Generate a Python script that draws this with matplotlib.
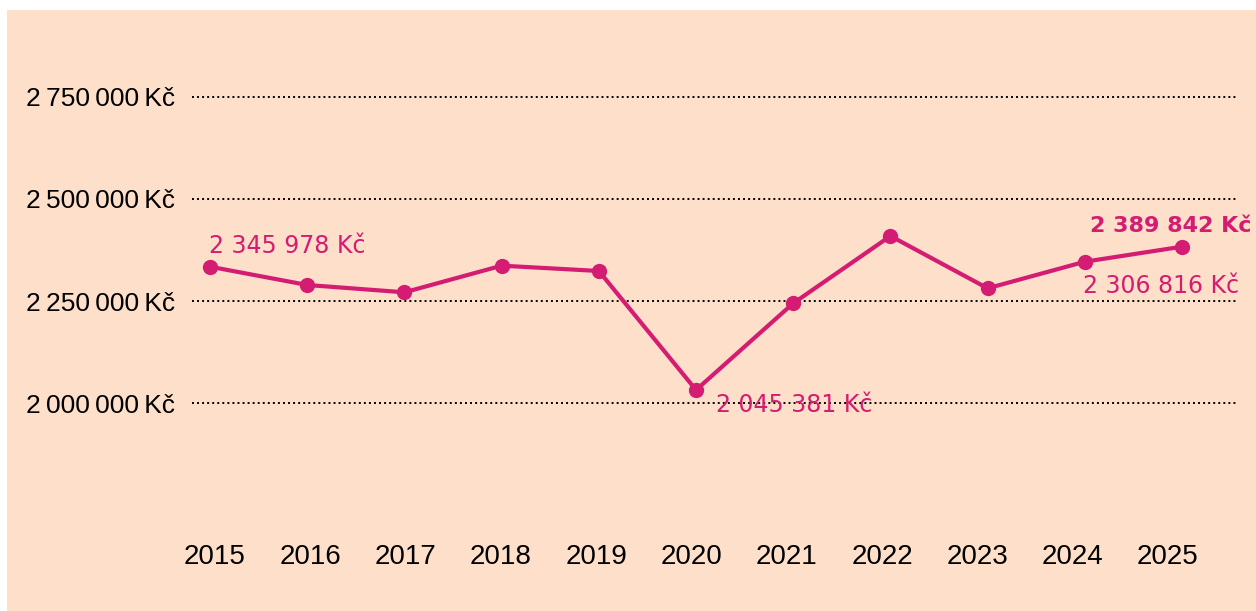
import matplotlib
matplotlib.use("Agg")
import matplotlib.pyplot as plt

years = ["2015", "2016", "2017", "2018", "2019", "2020", "2021", "2022", "2023", "2024", "2025"]
values = [2334300, 2289600, 2271700, 2336800, 2323800, 2033000, 2244900, 2409300, 2281500, 2346500, 2383200]
y_ticks = [2000000, 2250000, 2500000, 2750000]
y_tick_labels = ["2\u2009000\u2009000\u2009Kč", "2\u2009250\u2009000\u2009Kč", "2\u2009500\u2009000\u2009Kč", "2\u2009750\u2009000\u2009Kč"]
label_texts = ["2 345 978 Kč", "2 045 381 Kč", "2 306 816 Kč", "2 389 842 Kč"]

PINK = "#D41C72"
PEACH = "#FDDFCA"

fig = plt.figure(figsize=(12.56, 6.11), dpi=100, facecolor="white")
W, H = 1256, 611
ax = fig.add_axes([7 / W, 0, (W - 7) / W, (H - 10) / H])
ax.set_facecolor(PEACH)
for s in ax.spines.values():
    s.set_visible(False)

x = list(range(len(years)))
ax.set_xlim(-2.0885, 10.761)
ax.set_ylim(1492900, 2961600)

# dotted gridlines
ytr = ax.get_yaxis_transform()
for v in y_ticks:
    ax.plot([0.148, 0.985], [v, v], transform=ytr, color="black", lw=1.4,
            linestyle=(0, (1, 1.6)), zorder=1)

ax.plot(x, values, color=PINK, lw=3, marker="o", markersize=10, zorder=3)

# y ticks
ax.set_yticks(y_ticks, y_tick_labels)
ax.tick_params(axis="y", length=0, pad=-121, labelsize=19)
for t in ax.get_yticklabels():
    t.set_fontfamily(["Liberation Sans", "DejaVu Sans"])
    t.set_color("black")

# year labels (category axis row, slightly narrower spacing than the plotted points)
ax.set_xticks([])
for i, yr in enumerate(years):
    px = 215 + 95.3 * i
    ax.text((px - 7) / (W - 7), (611 - 557) / (H - 10), yr, transform=ax.transAxes,
            ha="center", va="center", fontsize=20, color="black",
            family=["Liberation Sans", "DejaVu Sans"])

# value labels
ax.annotate(label_texts[0], (x[0], values[0]), xytext=(-1, 13.7), textcoords="offset pixels",
            ha="left", va="baseline", color=PINK, fontsize=17, family="DejaVu Sans")
ax.annotate(label_texts[1], (x[5], values[5]), xytext=(20, -21.7), textcoords="offset pixels",
            ha="left", va="baseline", color=PINK, fontsize=17, family="DejaVu Sans")
ax.annotate(label_texts[2], (x[9], values[9]), xytext=(-2, -31.6), textcoords="offset pixels",
            ha="left", va="baseline", color=PINK, fontsize=17, family="DejaVu Sans")
ax.annotate(label_texts[3], (x[10], values[10]), xytext=(69, 15), textcoords="offset pixels",
            ha="right", va="baseline", color=PINK, fontsize=16, fontweight="bold", family="DejaVu Sans")

fig.savefig("out.png", dpi=100, facecolor="white")
